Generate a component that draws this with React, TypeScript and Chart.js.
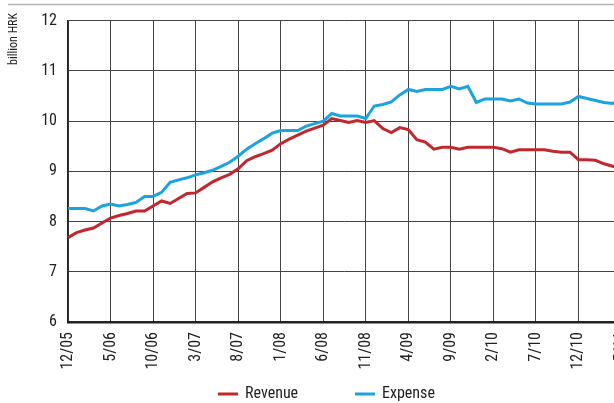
import { useEffect, useRef } from "react";
import { Chart, registerables } from "chart.js";

Chart.register(...registerables);

// Monthly observations, 12/2005 – 5/2011
const months = [
  "12/05",
  "1/06", "2/06", "3/06", "4/06", "5/06", "6/06", "7/06", "8/06", "9/06", "10/06", "11/06", "12/06",
  "1/07", "2/07", "3/07", "4/07", "5/07", "6/07", "7/07", "8/07", "9/07", "10/07", "11/07", "12/07",
  "1/08", "2/08", "3/08", "4/08", "5/08", "6/08", "7/08", "8/08", "9/08", "10/08", "11/08", "12/08",
  "1/09", "2/09", "3/09", "4/09", "5/09", "6/09", "7/09", "8/09", "9/09", "10/09", "11/09", "12/09",
  "1/10", "2/10", "3/10", "4/10", "5/10", "6/10", "7/10", "8/10", "9/10", "10/10", "11/10", "12/10",
  "1/11", "2/11", "3/11", "4/11", "5/11",
];

const revenue = [
  7.68, 7.78, 7.83, 7.87, 7.97, 8.07, 8.12, 8.16, 8.21, 8.21, 8.31, 8.41, 8.36,
  8.46, 8.56, 8.57, 8.68, 8.79, 8.87, 8.94, 9.05, 9.21, 9.29, 9.35, 9.42,
  9.55, 9.64, 9.72, 9.8, 9.86, 9.92, 10.05, 10.01, 9.97, 10.01, 9.97, 10.01,
  9.85, 9.77, 9.87, 9.83, 9.63, 9.58, 9.44, 9.48, 9.48, 9.44, 9.48, 9.48,
  9.48, 9.48, 9.45, 9.38, 9.43, 9.43, 9.43, 9.43, 9.4, 9.38, 9.38, 9.23,
  9.23, 9.22, 9.15, 9.1, 9.06,
];

const expense = [
  8.26, 8.26, 8.26, 8.21, 8.31, 8.35, 8.31, 8.34, 8.38, 8.5, 8.5, 8.58, 8.78,
  8.83, 8.87, 8.93, 8.97, 9.02, 9.1, 9.18, 9.3, 9.44, 9.55, 9.65, 9.76,
  9.81, 9.81, 9.81, 9.9, 9.95, 10.0, 10.15, 10.1, 10.1, 10.1, 10.05, 10.3,
  10.33, 10.38, 10.52, 10.63, 10.59, 10.63, 10.63, 10.63, 10.69, 10.64, 10.69, 10.37,
  10.44, 10.44, 10.44, 10.4, 10.44, 10.36, 10.34, 10.34, 10.34, 10.34, 10.38, 10.49,
  10.45, 10.41, 10.37, 10.35, 10.42,
];

const seriesNames = ["Revenue", "Expense"];
const unitLabel = "billion HRK";
const yMin = 6;
const yMax = 12;
const labelEvery = 5;

const RED = "#C1272D";
const BLUE = "#1AA3DD";
const INK = "#222222";
const GRID = "#444444";
const FONT =
  "'Liberation Sans Narrow', 'Arial Narrow', 'Roboto Condensed', 'DejaVu Sans Condensed', sans-serif";

// Legend entry placement (line start x for each series) and its row
const legendLineX = [218, 355];
const legendY = 394;

// Top rule, rotated unit caption and the legend row beneath the axis
const decor = {
  id: "decor",
  beforeDraw(chart: any) {
    const ctx = chart.ctx as CanvasRenderingContext2D;
    ctx.save();
    ctx.strokeStyle = "#b4b4b4";
    ctx.lineWidth = 1.5;
    ctx.beginPath();
    ctx.moveTo(8, 4.5);
    ctx.lineTo(chart.width, 4.5);
    ctx.stroke();
    ctx.translate(14, 13);
    ctx.rotate(-Math.PI / 2);
    ctx.font = `12px ${FONT}`;
    ctx.fillStyle = INK;
    ctx.textAlign = "right";
    ctx.textBaseline = "middle";
    ctx.fillText(unitLabel, 0, 0);
    ctx.restore();
  },
  afterDraw(chart: any) {
    const ctx = chart.ctx as CanvasRenderingContext2D;
    ctx.save();
    ctx.font = `16px ${FONT}`;
    ctx.textBaseline = "middle";
    ctx.textAlign = "left";
    chart.data.datasets.forEach((ds: any, i: number) => {
      const x = legendLineX[i];
      ctx.strokeStyle = ds.borderColor;
      ctx.lineWidth = 3;
      ctx.beginPath();
      ctx.moveTo(x, legendY);
      ctx.lineTo(x + 20, legendY);
      ctx.stroke();
      ctx.fillStyle = INK;
      ctx.fillText(ds.label, x + 27, legendY);
    });
    ctx.restore();
  },
};

export default function App() {
  const canvasRef = useRef<HTMLCanvasElement | null>(null);

  useEffect(() => {
    const canvas = canvasRef.current;
    if (!canvas) return;
    const font = { family: FONT, size: 16 };
    const chart = new Chart(canvas, {
      type: "line",
      data: {
        labels: months,
        datasets: [
          {
            label: seriesNames[0],
            data: revenue,
            borderColor: RED,
            backgroundColor: RED,
            borderWidth: 3,
            pointRadius: 0,
            tension: 0,
          },
          {
            label: seriesNames[1],
            data: expense,
            borderColor: BLUE,
            backgroundColor: BLUE,
            borderWidth: 3,
            pointRadius: 0,
            tension: 0,
          },
        ],
      },
      options: {
        responsive: false,
        animation: false,
        layout: { padding: { left: 35, right: 34, top: 20, bottom: 21 } },
        plugins: {
          legend: { display: false },
          tooltip: { enabled: false },
        },
        scales: {
          x: {
            offset: false,
            grid: {
              drawTicks: false,
              color: (c: any) => (c.index % labelEvery === 0 ? GRID : "transparent"),
              lineWidth: 1,
            },
            border: { color: INK, width: 2.5 },
            ticks: {
              autoSkip: false,
              minRotation: 90,
              maxRotation: 90,
              padding: 10,
              color: INK,
              font,
              callback: (_v: any, i: number) => (i % labelEvery === 0 ? months[i] : ""),
            },
            afterFit: (s: any) => {
              s.height = 60;
            },
          },
          y: {
            min: yMin,
            max: yMax,
            ticks: { stepSize: 1, padding: 11, color: INK, font },
            grid: { drawTicks: false, color: GRID, lineWidth: 1 },
            border: { color: INK, width: 1.5 },
            afterFit: (s: any) => {
              s.width = 33;
            },
          },
        },
      } as any,
      plugins: [decor],
    });
    return () => chart.destroy();
  }, []);

  return (
    <div
      style={{
        position: "fixed",
        left: 0,
        top: 0,
        width: 614,
        height: 403,
        overflow: "hidden",
        background: "#fff",
      }}
    >
      <canvas ref={canvasRef} width={655} height={403} style={{ display: "block" }} />
    </div>
  );
}
